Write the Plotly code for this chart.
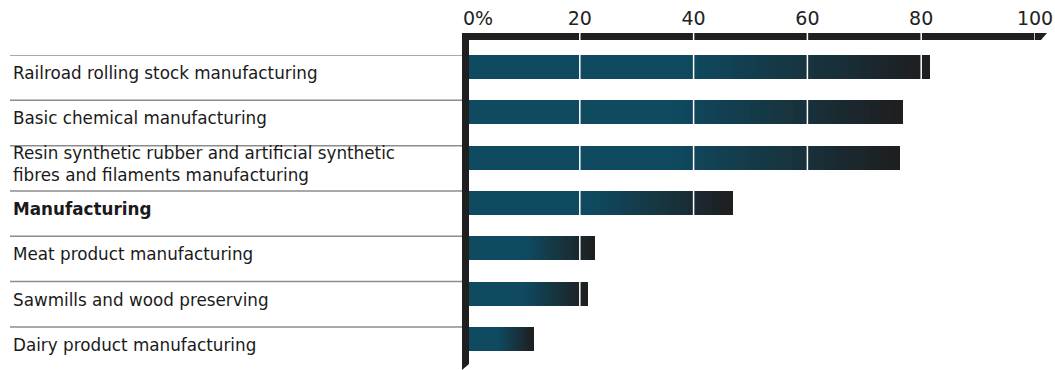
import plotly.graph_objects as go

categories = [
    "Railroad rolling stock manufacturing",
    "Basic chemical manufacturing",
    "Resin synthetic rubber and artificial synthetic<br>fibres and filaments manufacturing",
    "<b>Manufacturing</b>",
    "Meat product manufacturing",
    "Sawmills and wood preserving",
    "Dairy product manufacturing",
]
values = [81.5, 76.8, 76.3, 47.0, 22.6, 21.4, 12.0]
tick_vals = [0, 20, 40, 60, 80, 100]
tick_text = ["\u00a0\u00a0\u00a0\u00a00%", "20", "40", "60", "80", "100"]

W, H = 1055, 370
ML, MR, MT, MB = 466, 20, 55, 0
PW = W - ML - MR
PH = H - MT - MB
ROWS = 6.95


def px_x(p):
    return (p - ML) / PW


def px_y(p):
    return (H - MB - p) / PH


teal = (15, 74, 96)
dark = (30, 30, 31)
N = 40
pos = list(range(len(categories)))

fig = go.Figure()
for k in range(N):
    t = (k + 0.5) / N
    s = 0 if t < 0.47 else (t - 0.47) / 0.53
    c = tuple(round(teal[j] + (dark[j] - teal[j]) * s) for j in range(3))
    over = 1.3 if k < N - 1 else 1.0
    fig.add_trace(go.Bar(
        orientation="h",
        y=pos,
        x=[v / N * over for v in values],
        base=[v * k / N for v in values],
        width=0.53,
        offset=-0.5,
        marker=dict(color="rgb(%d,%d,%d)" % c, line=dict(width=0)),
        hoverinfo="skip",
        showlegend=False,
    ))

shapes = []
for i in pos:
    shapes.append(dict(type="line", xref="paper", yref="y",
                       x0=px_x(10), x1=px_x(462), y0=i - 0.5, y1=i - 0.5,
                       line=dict(color="#8c8c8c", width=1.5), layer="above"))

yT, yB = px_y(33), px_y(40)
xL, xR = px_x(462), px_x(469)
shapes.append(dict(type="path", xref="paper", yref="paper",
                   path="M %f,%f L %f,%f L %f,%f L %f,%f Z" % (xL, yT, px_x(1047), yT, px_x(1041), yB, xL, yB),
                   fillcolor="#1f1f1f", line=dict(width=0), layer="above"))
shapes.append(dict(type="path", xref="paper", yref="paper",
                   path="M %f,%f L %f,%f L %f,%f L %f,%f Z" % (xL, 0, xL, yT, xR, yT, xR, px_y(364)),
                   fillcolor="#1f1f1f", line=dict(width=0), layer="above"))
for v in tick_vals[1:]:
    shapes.append(dict(type="line", xref="x", yref="paper",
                       x0=v, x1=v, y0=0, y1=yT,
                       line=dict(color="#ffffff", width=1.5), layer="above"))

annotations = []
for i, lab in zip(pos, categories):
    annotations.append(dict(
        xref="paper", yref="y", x=px_x(11), y=i - 0.5 + 18 / (PH / ROWS),
        text=lab, showarrow=False, xanchor="left", yanchor="middle", align="left",
        font=dict(family="DejaVu Sans", size=16.8, color="#1a1a1a"),
    ))

fig.update_layout(
    width=W, height=H,
    margin=dict(l=ML, r=MR, t=MT, b=MB),
    paper_bgcolor="white", plot_bgcolor="white",
    barmode="overlay", bargap=0,
    shapes=shapes, annotations=annotations,
    xaxis=dict(range=[0, 100], side="top", tickvals=tick_vals, ticktext=tick_text,
               showgrid=False, zeroline=False, showline=False,
               ticks="outside", ticklen=21, tickcolor="rgba(0,0,0,0)",
               tickfont=dict(family="DejaVu Sans", size=19, color="#222222")),
    yaxis=dict(range=[ROWS - 0.5, -0.5], showticklabels=False, showgrid=False,
               zeroline=False, showline=False, ticks=""),
)

fig.write_html("out.html")
